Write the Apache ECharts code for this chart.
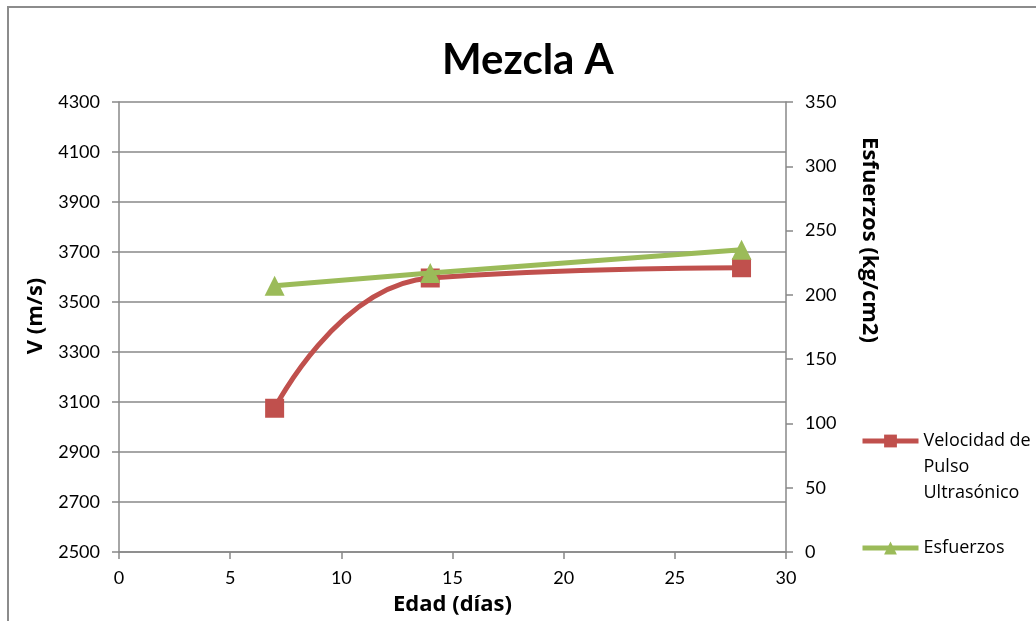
<!DOCTYPE html>
<html>
<head>
<meta charset="utf-8">
<script src="https://cdn.jsdelivr.net/npm/echarts@6/dist/echarts.min.js"></script>
<style>
  html, body { margin: 0; padding: 0; background: #ffffff; }
  #chart { width: 1036px; height: 621px; }
</style>
</head>
<body>
<div id="chart"></div>
<script>
// Edad de ensayo (días)
const edades = [7, 14, 28];
// Velocidad de pulso ultrasónico (m/s)
const velocidad = [3075, 3596, 3637];
// Esfuerzo a compresión (kg/cm2)
const esfuerzos = [207, 217, 235];

const nombreVel = 'Velocidad de\nPulso\nUltrasónico';
const nombreEsf = 'Esfuerzos';

const FONT = 'Lato, "Open Sans", sans-serif';
const FONT_ANCHO = '"Open Sans", Lato, sans-serif';
const GRIS = '#888888';
const ROJO = '#C0504D';
const VERDE = '#9BBB59';

const chart = echarts.init(document.getElementById('chart'), null, { renderer: 'canvas' });

const axisCommon = {
  axisLine: { show: true, lineStyle: { color: GRIS, width: 1.5 } },
  axisTick: { show: true, length: 7, lineStyle: { color: GRIS, width: 1.5 } },
  axisLabel: { color: '#000', fontFamily: FONT, fontSize: 18, formatter: v => String(v) },
  nameTextStyle: { color: '#000', fontFamily: FONT_ANCHO, fontSize: 22, fontWeight: 'bold' }
};

const legendText = { fontFamily: FONT_ANCHO, fontSize: 18, color: '#000', lineHeight: 26 };

chart.setOption({
  animation: false,
  backgroundColor: '#ffffff',
  title: {
    text: 'Mezcla A',
    left: 437,
    top: 34,
    textStyle: { fontFamily: FONT, fontSize: 42, fontWeight: 'bold', color: '#000' }
  },
  graphic: [{
    type: 'polyline',
    shape: { points: [[8, 640], [8, 7], [1050, 7]] },
    style: { stroke: '#8c8c8c', lineWidth: 2, fill: null },
    silent: true
  }],
  grid: { left: 119, right: 250, top: 102, bottom: 69 },
  legend: [{
    data: [nombreVel],
    left: 855,
    top: 371,
    itemWidth: 56,
    itemHeight: 16,
    lineStyle: { width: 5 },
    // two blank lines ahead keep the icon level with the first line
    formatter: name => '\n\n' + name,
    textStyle: legendText
  }, {
    data: [nombreEsf],
    left: 855,
    top: 530,
    itemWidth: 56,
    itemHeight: 16,
    lineStyle: { width: 5 },
    textStyle: legendText
  }],
  xAxis: Object.assign({}, axisCommon, {
    type: 'value',
    min: 0, max: 30, interval: 5,
    name: 'Edad (días)',
    nameLocation: 'middle',
    nameGap: 42,
    splitLine: { show: false },
    axisLabel: Object.assign({}, axisCommon.axisLabel, { margin: 17 })
  }),
  yAxis: [
    Object.assign({}, axisCommon, {
      type: 'value',
      min: 2500, max: 4300, interval: 200,
      position: 'left',
      name: 'V (m/s)',
      nameLocation: 'middle',
      nameGap: 72,
      nameTextStyle: Object.assign({}, axisCommon.nameTextStyle, { padding: [0, 0, 0, 22] }),
      splitLine: { show: true, lineStyle: { color: GRIS, width: 1.5 } },
      axisLabel: Object.assign({}, axisCommon.axisLabel, { margin: 19 })
    }),
    Object.assign({}, axisCommon, {
      type: 'value',
      min: 0, max: 350, interval: 50,
      position: 'right',
      name: 'Esfuerzos (kg/cm2)',
      nameLocation: 'middle',
      nameRotate: -90,
      nameGap: 72,
      nameTextStyle: Object.assign({}, axisCommon.nameTextStyle, { padding: [0, 174, 0, 0] }),
      splitLine: { show: false },
      axisLabel: Object.assign({}, axisCommon.axisLabel, { margin: 19 })
    })
  ],
  series: [{
    name: nombreVel,
    type: 'line',
    yAxisIndex: 0,
    smooth: 0.5,
    data: edades.map((x, i) => [x, velocidad[i]]),
    symbol: 'rect',
    symbolSize: 19,
    lineStyle: { color: ROJO, width: 5 },
    itemStyle: { color: ROJO },
    z: 2
  }, {
    name: nombreEsf,
    type: 'line',
    yAxisIndex: 1,
    data: edades.map((x, i) => [x, esfuerzos[i]]),
    symbol: 'triangle',
    symbolSize: 20,
    lineStyle: { color: VERDE, width: 5 },
    itemStyle: { color: VERDE },
    z: 3
  }]
});
</script>
</body>
</html>
